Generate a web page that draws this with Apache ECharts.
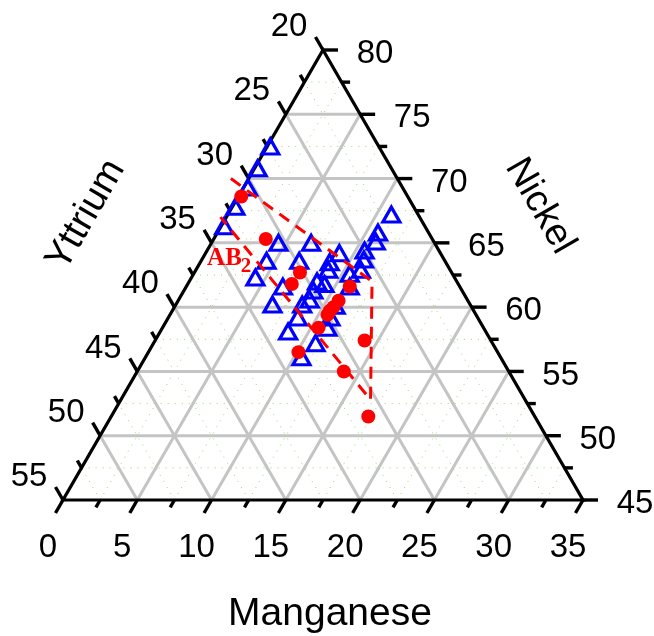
<!DOCTYPE html>
<html><head><meta charset="utf-8">
<script src="https://cdn.jsdelivr.net/npm/echarts@6/dist/echarts.min.js"></script>
<style>html,body{margin:0;padding:0;background:#fff}#c{width:654px;height:636px}</style>
</head><body><div id="c"></div>
<script>
// ---- Axis ticks (ternary: Yttrium + Nickel + Manganese = 100) ----
const manganeseTicks = [0, 5, 10, 15, 20, 25, 30, 35];
const nickelTicks    = [45, 50, 55, 60, 65, 70, 75, 80];
const yttriumTicks   = [20, 25, 30, 35, 40, 45, 50, 55];

// ---- Blue triangles (Manganese, Nickel); Yttrium = 100 - Mn - Ni ----
const triMn = [0.2, 0.2, 0.3, 0.2, 0.2, 11.0, 10.8, 11.0, 4.5, 6.7, 10.6, 9.0, 10.9, 4.4, 6.6, 8.7, 11.1, 8.9, 10.5, 4.3, 6.5, 8.6, 9.2, 8.7, 11.0, 6.5, 8.5, 8.8, 10.8, 8.7, 10.9, 8.6, 11.1, 10.9, 10.5];
const triNi = [72.5, 70.8, 69.3, 67.8, 66.3, 67.2, 65.8, 65.1, 65.0, 65.0, 64.4, 64.2, 63.7, 63.6, 63.6, 63.5, 62.9, 62.9, 62.6, 62.3, 61.6, 62.0, 61.8, 61.3, 61.6, 60.2, 60.2, 60.6, 60.1, 59.2, 59.2, 58.1, 58.4, 57.2, 56.1];

// ---- Red dots (Manganese, Nickel) ----
const dotMn = [0.2, 3.5, 7.1, 7.0, 11.0, 10.8, 10.7, 10.6, 10.6, 10.5, 10.1, 14.1, 13.9, 17.3];
const dotNi = [68.6, 65.3, 62.7, 61.8, 61.6, 60.5, 60.0, 59.7, 59.4, 58.4, 56.5, 57.4, 55.0, 51.5];

// ---- Red dashed boundary (Manganese, Nickel) ----
const boundMn = [-1.2, 12.3, 16.8, -0.4];
const boundNi = [70.0, 62.0, 52.8, 67.0];

// ---- Phase label (Manganese, Nickel, main text, subscript) ----
const phaseMn = [2.6];
const phaseNi = [63.6];
const phaseText = ['AB'];
const phaseSub = ['2'];

const SQ = Math.sqrt(3) / 2;
function xy(mn, ni) { return [mn + (ni - 45) / 2, (ni - 45) * SQ]; }
function lineMn(v) { return [...xy(v, 45), ...xy(v, 80 - v)]; }
function lineNi(v) { return [...xy(0, v), ...xy(80 - v, v)]; }
function lineY(v)  { return [...xy(55 - v, 45), ...xy(0, 100 - v)]; }

const inner = t => t.slice(1, -1);
const halves = t => t.slice(0, -1).map(v => v + 2.5);

const majorGrid = [...inner(manganeseTicks).map(lineMn), ...inner(nickelTicks).map(lineNi), ...inner(yttriumTicks).map(lineY)];
const minorGrid = [...halves(manganeseTicks).map(lineMn), ...halves(nickelTicks).map(lineNi), ...halves(yttriumTicks).map(lineY)];

// tick items: [x, y, kind, major]
const tickItems = [];
const labelItems = [];
manganeseTicks.forEach(v => { const p = xy(v, 45); tickItems.push([...p, 0, 1]); labelItems.push([...p, 0, v]); });
halves(manganeseTicks).forEach(v => tickItems.push([...xy(v, 45), 0, 0]));
nickelTicks.forEach(v => { const p = xy(80 - v, v); tickItems.push([...p, 1, 1]); labelItems.push([...p, 1, v]); });
halves(nickelTicks).forEach(v => tickItems.push([...xy(80 - v, v), 1, 0]));
yttriumTicks.forEach(v => { const p = xy(0, 100 - v); tickItems.push([...p, 2, 1]); labelItems.push([...p, 2, v]); });
halves(yttriumTicks).forEach(v => tickItems.push([...xy(0, 100 - v), 2, 0]));

const tickDir = [[-0.5, 0.866], [1, 0], [-0.5, -0.866]];
const labelOff = [[-15, 48], [52, 4], [-34, -23]];

function segSeries(data, style, z) {
  return {
    type: 'custom', coordinateSystem: 'cartesian2d', clip: false, silent: true, z: z, data: data,
    renderItem: (p, api) => {
      const a = api.coord([api.value(0), api.value(1)]);
      const b = api.coord([api.value(2), api.value(3)]);
      return { type: 'line', shape: { x1: a[0], y1: a[1], x2: b[0], y2: b[1] }, style: style };
    }
  };
}

const font = '"Liberation Sans", Arial, Helvetica, sans-serif';
const serif = '"Liberation Serif", "Times New Roman", serif';
const chart = echarts.init(document.getElementById('c'));
chart.setOption({
  animation: false,
  backgroundColor: '#fff',
  grid: { left: 63, right: 71, top: 50, bottom: 136 },
  xAxis: { type: 'value', min: 0, max: 35, show: false },
  yAxis: { type: 'value', min: 0, max: 35 * SQ, show: false },
  graphic: [
    { type: 'text', x: 330, y: 614, style: { text: 'Manganese', font: '39px ' + font, fill: '#000', textAlign: 'center', textVerticalAlign: 'middle', align: 'center', verticalAlign: 'middle' } },
    { type: 'text', x: 86, y: 215, rotation: Math.PI / 3, style: { text: 'Yttrium', font: '38px ' + font, fill: '#000', textAlign: 'center', textVerticalAlign: 'middle', align: 'center', verticalAlign: 'middle' } },
    { type: 'text', x: 540, y: 206, rotation: -Math.PI / 3, style: { text: 'Nickel', font: '38px ' + font, fill: '#000', textAlign: 'center', textVerticalAlign: 'middle', align: 'center', verticalAlign: 'middle' } }
  ],
  series: [
    segSeries(minorGrid, { stroke: 'rgba(120,200,60,0.75)', lineWidth: 1, lineDash: [1, 6] }, 1),
    segSeries(majorGrid, { stroke: '#c4c4c4', lineWidth: 3 }, 2),
    {
      type: 'custom', coordinateSystem: 'cartesian2d', clip: false, silent: true, z: 3,
      data: [[...xy(0, 45), ...xy(35, 45), ...xy(0, 80)]],
      renderItem: (p, api) => {
        const pts = [0, 2, 4].map(i => api.coord([api.value(i), api.value(i + 1)]));
        return { type: 'polygon', shape: { points: pts }, style: { fill: 'none', stroke: '#000', lineWidth: 3.2, lineJoin: 'miter' } };
      }
    },
    {
      type: 'custom', coordinateSystem: 'cartesian2d', clip: false, silent: true, z: 3, data: tickItems,
      renderItem: (p, api) => {
        const a = api.coord([api.value(0), api.value(1)]);
        const d = tickDir[api.value(2)];
        const len = api.value(3) ? 15 : 8.5;
        return { type: 'line', shape: { x1: a[0], y1: a[1], x2: a[0] + d[0] * len, y2: a[1] + d[1] * len }, style: { stroke: '#000', lineWidth: 3.4 } };
      }
    },
    {
      type: 'custom', coordinateSystem: 'cartesian2d', clip: false, silent: true, z: 3, data: labelItems,
      renderItem: (p, api) => {
        const a = api.coord([api.value(0), api.value(1)]);
        const o = labelOff[api.value(2)];
        return { type: 'text', x: a[0] + o[0], y: a[1] + o[1], style: { text: String(api.value(3)), font: '33px ' + font, fill: '#000', textAlign: 'center', textVerticalAlign: 'middle', align: 'center', verticalAlign: 'middle' } };
      }
    },
    {
      type: 'scatter', z: 5, symbol: 'triangle', symbolSize: [17, 15],
      itemStyle: { color: 'rgba(0,0,0,0)', borderColor: '#0000ff', borderWidth: 3.2, opacity: 1 },
      data: triMn.map((m, i) => xy(m, triNi[i]))
    },
    {
      type: 'line', z: 6, symbol: 'none', clip: false, silent: true,
      lineStyle: { color: '#ff0000', width: 3, type: [12, 8], opacity: 1 },
      data: boundMn.map((m, i) => xy(m, boundNi[i]))
    },
    {
      type: 'scatter', z: 7, symbol: 'circle', symbolSize: 14,
      itemStyle: { color: '#ff0000', opacity: 1 },
      data: dotMn.map((m, i) => xy(m, dotNi[i]))
    },
    {
      type: 'custom', coordinateSystem: 'cartesian2d', clip: false, silent: true, z: 8,
      data: phaseMn.map((m, i) => [...xy(m, phaseNi[i]), i]),
      renderItem: (p, api) => {
        const a = api.coord([api.value(0), api.value(1)]);
        const i = api.value(2);
        return { type: 'group', children: [
          { type: 'text', x: a[0] + 2, y: a[1] - 2, style: { text: phaseText[i], font: 'bold 25px ' + serif, fill: '#ff0000', textAlign: 'right', textVerticalAlign: 'middle', align: 'right', verticalAlign: 'middle' } },
          { type: 'text', x: a[0] + 1, y: a[1] + 6, style: { text: phaseSub[i], font: 'bold 21px ' + serif, fill: '#ff0000', textAlign: 'left', textVerticalAlign: 'middle', align: 'left', verticalAlign: 'middle' } }
        ] };
      }
    }
  ]
});
</script></body></html>
